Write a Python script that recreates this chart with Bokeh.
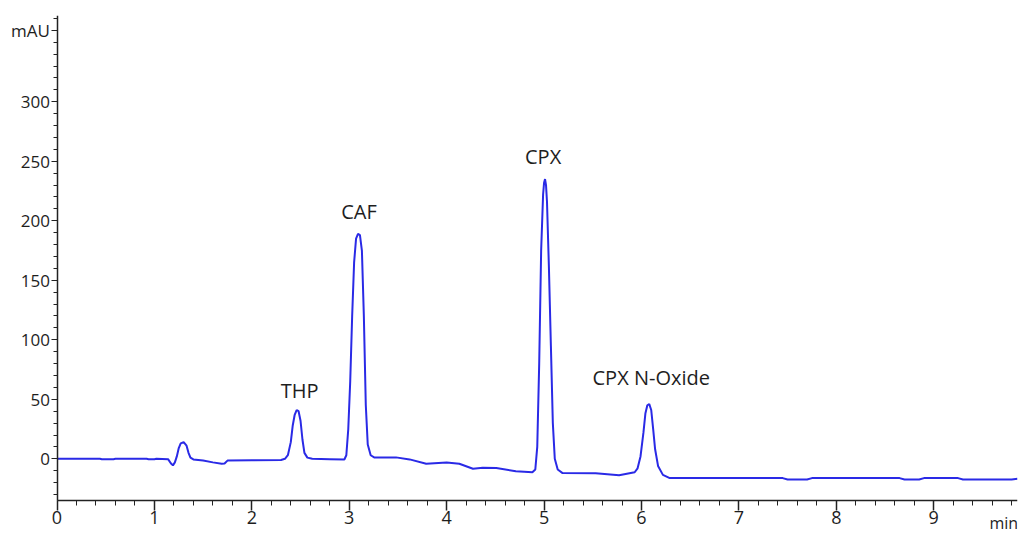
from bokeh.plotting import figure
from bokeh.models import FixedTicker, Range1d, ColumnDataSource, LinearAxis
from bokeh.core.properties import value
from bokeh.embed import file_html
from bokeh.resources import INLINE

# Chromatogram trace (time in min, signal in mAU)
time_min = [
    0.00, 0.44, 0.46, 0.58, 0.60, 0.92, 0.94, 1.00, 1.02, 1.14,
    1.17, 1.19, 1.21, 1.23, 1.25, 1.27, 1.30, 1.33, 1.35, 1.37,
    1.40, 1.50, 1.60, 1.69, 1.72, 1.75, 2.00, 2.30, 2.34, 2.37,
    2.40, 2.42, 2.44, 2.46, 2.48, 2.50, 2.52, 2.54, 2.57, 2.62,
    2.80, 2.95, 2.97, 2.99, 3.01, 3.03, 3.05, 3.07, 3.09, 3.11,
    3.13, 3.15, 3.17, 3.19, 3.22, 3.26, 3.48, 3.62, 3.79, 4.00,
    4.13, 4.27, 4.37, 4.51, 4.71, 4.88, 4.91, 4.93, 4.95, 4.97,
    4.99, 5.00, 5.01, 5.02, 5.03, 5.05, 5.07, 5.09, 5.11, 5.14,
    5.19, 5.53, 5.77, 5.93, 5.96, 5.99, 6.02, 6.04, 6.06, 6.08,
    6.10, 6.12, 6.14, 6.17, 6.22, 6.29, 7.45, 7.50, 7.70, 7.75,
    8.65, 8.70, 8.85, 8.90, 9.25, 9.30, 9.80, 9.86,
]
signal_mau = [
    0.0, 0.0, -0.4, -0.4, 0.0, 0.0, -0.4, -0.4, 0.0, -0.3,
    -4.0, -5.5, -3.0, 2.0, 9.0, 13.0, 14.0, 11.0, 5.0, 1.0,
    -0.5, -1.5, -3.0, -4.2, -4.0, -1.5, -1.2, -1.0, 0.0, 3.0,
    14.0, 28.0, 37.0, 41.0, 40.0, 32.0, 16.0, 5.0, 1.0, 0.0,
    -0.3, -0.6, 3.0, 25.0, 65.0, 120.0, 165.0, 185.0, 189.0, 188.0,
    175.0, 120.0, 45.0, 12.0, 3.0, 1.0, 1.2, -0.5, -4.2, -3.2,
    -4.2, -8.4, -7.6, -7.8, -10.4, -11.3, -9.0, 10.0, 80.0, 175.0,
    222.0, 232.0, 235.0, 230.0, 216.0, 160.0, 95.0, 30.0, 0.0, -9.0,
    -12.0, -12.1, -13.8, -11.3, -8.0, 2.0, 22.0, 38.0, 45.0, 46.0,
    41.0, 25.0, 8.0, -6.0, -13.5, -16.2, -16.2, -17.4, -17.4, -16.2,
    -16.2, -17.4, -17.4, -16.2, -16.2, -17.4, -17.4, -16.8,
]

# Peak annotations
peak_names = ["THP", "CAF", "CPX", "CPX N-Oxide"]
peak_label_x = [2.49, 3.10, 4.99, 6.10]
peak_label_y = [57.0, 208.0, 254.0, 68.0]

# Axis ticks
x_major_ticks = [0, 1, 2, 3, 4, 5, 6, 7, 8, 9]
x_minor_ticks = [round(i * 0.2, 1) for i in range(0, 50)]
y_major_ticks = [0, 50, 100, 150, 200, 250, 300, 360]
y_minor_ticks = list(range(-30, 371, 10))
y_label_overrides = {360: "mAU"}
x_unit_tick = 9.72
x_unit_label = "min"

X_AXIS_AT = -35.0   # mAU level of the time axis
Y_AXIS_AT = 0.0     # time of the signal axis
X_END = 9.86
Y_TOP = 372.5
FONT = "Open Sans"
TXT = "#1e1e1e"

p = figure(width=1019, height=534, output_backend="svg", toolbar_location=None,
           x_range=Range1d(-0.58, X_END), y_range=Range1d(-63.6, Y_TOP),
           min_border_left=0, min_border_right=2, min_border_top=15,
           min_border_bottom=0)
p.outline_line_color = None
p.xgrid.visible = False
p.ygrid.visible = False
p.background_fill_color = "white"
p.border_fill_color = "white"

src = ColumnDataSource(dict(t=time_min, s=signal_mau))
p.line("t", "s", source=src, line_color="#2a2ae6", line_width=2)

lab = ColumnDataSource(dict(x=peak_label_x, y=peak_label_y, name=peak_names))
p.text("x", "y", text="name", source=lab, text_align="center",
       text_baseline="middle", text_font=value(FONT), text_font_size="20px",
       text_color=TXT)

# x axis drawn inside the frame
xa = p.xaxis[0]
xa.fixed_location = X_AXIS_AT
xa.bounds = (Y_AXIS_AT, X_END)
xa.ticker = FixedTicker(ticks=x_major_ticks, minor_ticks=x_minor_ticks)
xa.axis_line_color = "#222222"
xa.axis_line_width = 1.5
xa.major_tick_line_color = "#222222"
xa.minor_tick_line_color = "#222222"
xa.major_tick_line_width = 1.5
xa.major_tick_in = 0
xa.major_tick_out = 10
xa.minor_tick_in = 0
xa.minor_tick_out = 5
xa.major_label_standoff = 1
xa.major_label_text_font = FONT
xa.major_label_text_font_size = "18px"
xa.major_label_text_color = TXT

# unit label "min" as a tick-less axis label at the right end
ua = LinearAxis(fixed_location=X_AXIS_AT,
                ticker=FixedTicker(ticks=[x_unit_tick], minor_ticks=[]),
                major_label_overrides={x_unit_tick: x_unit_label})
ua.axis_line_color = None
ua.major_tick_line_color = None
ua.minor_tick_line_color = None
ua.major_tick_in = 0
ua.major_tick_out = 0
ua.major_label_standoff = 12
ua.major_label_text_font = FONT
ua.major_label_text_font_size = "16px"
ua.major_label_text_color = TXT
p.add_layout(ua, "below")

# y axis drawn inside the frame
ya = p.yaxis[0]
ya.fixed_location = Y_AXIS_AT
ya.bounds = (X_AXIS_AT, Y_TOP)
ya.ticker = FixedTicker(ticks=y_major_ticks, minor_ticks=y_minor_ticks)
ya.major_label_overrides = y_label_overrides
ya.axis_line_color = "#222222"
ya.axis_line_width = 1.5
ya.major_tick_line_color = "#222222"
ya.minor_tick_line_color = "#222222"
ya.major_tick_in = 0
ya.major_tick_out = 6
ya.minor_tick_in = 0
ya.minor_tick_out = 4
ya.major_label_standoff = 1
ya.major_label_text_font = FONT
ya.major_label_text_font_size = "17px"
ya.major_label_text_color = TXT

open("out.html", "w").write(file_html(p, INLINE))
